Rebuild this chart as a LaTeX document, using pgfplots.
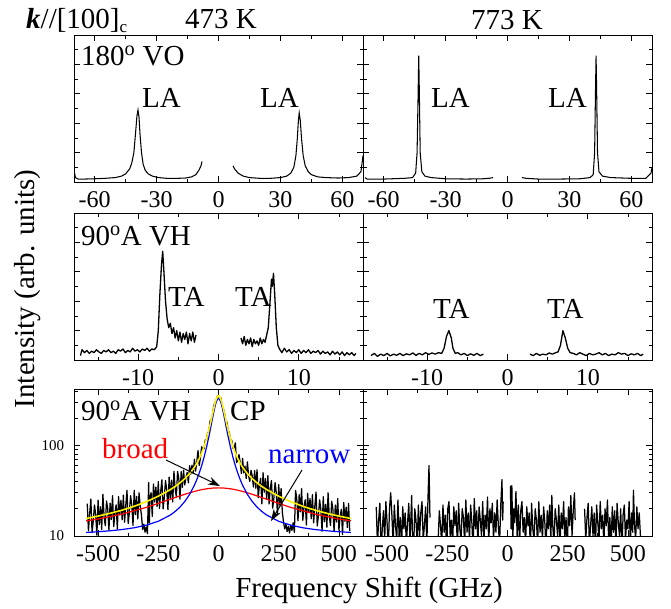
\documentclass[border=0pt]{standalone}
\usepackage{fontspec}
\setmainfont{Liberation Serif}
\usepackage{pgfplots}
\pgfplotsset{compat=1.18}
\usetikzlibrary{arrows.meta}
\pgfplotsset{
  panel/.style={scale only axis, width=289pt, height=147pt, anchor=south west,
    axis line style={line width=0.9pt}, every tick/.style={line width=0.8pt, black},
    major tick length=6pt, minor tick length=3.5pt, tick align=inside,
    xtick pos=both, ytick pos=both, xticklabel pos=lower, yticklabel pos=left,
    tick label style={font=\fontsize{24}{26}\selectfont},
    /pgf/number format/assume math mode=true},
  rowa/.style={panel, xmin=-70, xmax=70, ymin=0, ymax=1,
    xtick={-60,-30,0,30,60}, minor xtick={-45,-15,15,45},
    ytick={0.2,0.4,0.6,0.8}, minor ytick={0.1,0.3,0.5,0.7,0.9}, yticklabels={}},
  rowb/.style={panel, xmin=-18, xmax=18, ymin=0, ymax=1,
    xtick={-10,0,10}, minor xtick={-15,-5,5,15},
    ytick={0.2,0.4,0.6,0.8}, minor ytick={0.1,0.3,0.5,0.7,0.9}, yticklabels={}},
  rowc/.style={panel, xmin=-600, xmax=600,
    xtick={-500,-250,0,250,500}, minor xtick={-375,-125,125,375},
    ytick={10,100}, minor ytick={20,30,40,50,60,70,80,90,200,300,400}},
  dat/.style={black, line width=1.05pt, no marks},
  mid/.style={black, line width=1.3pt, no marks, line join=round},
  noi/.style={black, line width=1.25pt, no marks, line join=round},
}
\begin{document}
\fontsize{29}{33}\selectfont
\begin{tikzpicture}
\useasboundingbox (0pt,0pt) rectangle (671pt,-608pt);
% ---------- row 1 left ----------
\begin{axis}[rowa, at={(74pt,-182pt)}]
\addplot[dat] coordinates {(-70,0.08)(-69.3,0.03)(-68,0.02)(-65,0.02)(-60,0.022)(-55,0.025)(-50,0.03)(-47,0.04)(-45,0.055)(-43,0.09)(-42,0.13)(-41,0.2)(-40.2,0.33)(-39.5,0.45)(-39.0,0.49)(-38.5,0.44)(-38,0.32)(-37.3,0.2)(-36.5,0.12)(-35.5,0.08)(-34,0.055)(-32,0.04)(-29,0.03)(-25,0.025)(-20,0.025)(-16,0.027)(-13,0.035)(-11,0.05)(-9.5,0.08)(-8.5,0.11)(-8,0.14)};
\addplot[dat] coordinates {(7,0.11)(8,0.085)(9.5,0.06)(12,0.04)(15,0.03)(20,0.025)(25,0.025)(30,0.03)(33,0.04)(35,0.06)(36.5,0.1)(37.5,0.18)(38.2,0.3)(38.7,0.42)(39.1,0.47)(39.6,0.42)(40.2,0.3)(41,0.18)(42,0.11)(43.5,0.07)(45,0.05)(48,0.035)(52,0.03)(58,0.027)(63,0.03)(67,0.04)(69,0.07)(70,0.18)};
\end{axis}
% ---------- row 1 right ----------
\begin{axis}[rowa, at={(363pt,-182pt)}]
\addplot[dat] coordinates {(-69,0.03)(-68,0.02)(-60,0.02)(-50,0.025)(-46,0.03)(-44.5,0.06)(-43.8,0.2)(-43.3,0.6)(-43,0.86)(-42.7,0.6)(-42.3,0.2)(-41.5,0.07)(-40,0.04)(-37,0.03)(-30,0.022)(-20,0.02)(-12,0.022)(-9,0.025)(-7,0.03)};
\addplot[dat] coordinates {(7,0.03)(9,0.025)(15,0.02)(25,0.02)(35,0.022)(40,0.03)(41.5,0.05)(42.2,0.2)(42.6,0.6)(42.9,0.86)(43.2,0.6)(43.6,0.2)(44.3,0.07)(46,0.04)(50,0.03)(60,0.025)(67,0.025)(69.5,0.06)(70,0.1)};
\end{axis}
% ---------- row 2 left ----------
\begin{axis}[rowb, at={(74pt,-360pt)}]
\addplot[mid] coordinates {(-17.2,0.03)(-17.0,0.07)(-16.7,0.05)(-16.4,0.065)(-16.1,0.045)(-15.8,0.06)(-15.5,0.05)(-15.2,0.07)(-14.9,0.055)(-14.6,0.045)(-14.3,0.065)(-14.0,0.055)(-13.7,0.07)(-13.4,0.05)(-13.1,0.06)(-12.8,0.045)(-12.5,0.07)(-12.2,0.06)(-11.9,0.075)(-11.6,0.05)(-11.3,0.065)(-11.0,0.055)(-10.7,0.08)(-10.4,0.06)(-10.1,0.07)(-9.8,0.055)(-9.5,0.075)(-9.2,0.065)(-8.9,0.08)(-8.6,0.06)(-8.3,0.075)(-8.0,0.07)(-7.7,0.09)(-7.5,0.2)(-7.3,0.45)(-7.1,0.65)(-6.95,0.74)(-6.8,0.6)(-6.6,0.4)(-6.4,0.28)(-6.2,0.22)(-6.0,0.25)(-5.8,0.18)(-5.6,0.22)(-5.4,0.15)(-5.2,0.2)(-5.0,0.13)(-4.8,0.19)(-4.6,0.12)(-4.4,0.18)(-4.2,0.14)(-4.0,0.19)(-3.8,0.11)(-3.6,0.18)(-3.4,0.13)(-3.2,0.19)(-3.0,0.12)(-2.8,0.17)};
\addplot[mid] coordinates {(2.8,0.15)(3.0,0.11)(3.2,0.16)(3.4,0.1)(3.6,0.14)(3.8,0.11)(4.0,0.15)(4.2,0.09)(4.4,0.14)(4.6,0.11)(4.8,0.13)(5.0,0.1)(5.2,0.15)(5.4,0.11)(5.6,0.14)(5.8,0.12)(6.0,0.17)(6.2,0.22)(6.4,0.38)(6.6,0.55)(6.7,0.5)(6.85,0.59)(7.0,0.45)(7.2,0.22)(7.4,0.1)(7.6,0.075)(7.9,0.05)(8.2,0.08)(8.5,0.055)(8.8,0.07)(9.1,0.045)(9.4,0.065)(9.7,0.05)(10.0,0.07)(10.3,0.045)(10.6,0.065)(10.9,0.05)(11.2,0.07)(11.5,0.045)(11.8,0.06)(12.1,0.05)(12.4,0.065)(12.7,0.04)(13.0,0.06)(13.3,0.045)(13.6,0.055)(13.9,0.035)(14.2,0.06)(14.5,0.04)(14.8,0.055)(15.1,0.035)(15.4,0.055)(15.7,0.03)(16.0,0.05)(16.3,0.035)(16.6,0.05)(16.9,0.03)(17.1,0.045)};
\end{axis}
% ---------- row 2 right ----------
\begin{axis}[rowb, at={(363pt,-360pt)}]
\addplot[mid] coordinates {(-17.0,0.03)(-16.6,0.045)(-16.2,0.025)(-15.8,0.04)(-15.4,0.03)(-15.0,0.045)(-14.6,0.028)(-14.2,0.04)(-13.8,0.032)(-13.4,0.045)(-13.0,0.03)(-12.6,0.042)(-12.2,0.035)(-11.8,0.048)(-11.4,0.032)(-11.0,0.045)(-10.6,0.035)(-10.2,0.05)(-9.8,0.038)(-9.4,0.048)(-9.0,0.04)(-8.6,0.05)(-8.2,0.045)(-7.9,0.08)(-7.6,0.16)(-7.3,0.2)(-7.0,0.15)(-6.8,0.08)(-6.5,0.045)(-6.2,0.05)(-5.8,0.035)(-5.4,0.045)(-5.0,0.03)(-4.6,0.042)(-4.2,0.032)(-3.8,0.045)(-3.4,0.03)(-3.0,0.04)};
\addplot[mid] coordinates {(2.8,0.04)(3.2,0.03)(3.6,0.045)(4.0,0.032)(4.4,0.04)(4.8,0.035)(5.2,0.048)(5.6,0.04)(6.0,0.05)(6.3,0.055)(6.6,0.1)(6.9,0.2)(7.2,0.15)(7.5,0.08)(7.8,0.05)(8.2,0.045)(8.6,0.035)(9.0,0.05)(9.4,0.04)(9.8,0.03)(10.2,0.045)(10.6,0.035)(11.0,0.04)(11.4,0.05)(11.8,0.035)(12.2,0.045)(12.6,0.03)(13.0,0.04)(13.4,0.035)(13.8,0.05)(14.2,0.04)(14.6,0.045)(15.0,0.03)(15.4,0.042)(15.8,0.035)(16.2,0.045)(16.6,0.03)(16.9,0.04)};
\end{axis}
% ---------- row 3 left ----------
\begin{axis}[rowc, ymode=log, ymin=10, ymax=420, at={(74pt,-536pt)}, yticklabels={10,100},
  yticklabel style={font=\fontsize{15}{16}\selectfont}]
\addplot[noi] coordinates {(-545,22.8)(-540,11.4)(-535,17.5)(-530,25.6)(-525,10.9)(-520,14.6)(-515,22.0)(-510,17.2)(-505,10.2)(-500,24.9)(-495,13.4)(-490,21.0)(-485,11.8)(-480,28.9)(-475,16.3)(-470,13.0)(-465,24.4)(-460,20.1)(-455,11.6)(-450,23.1)(-445,15.2)(-440,27.9)(-435,12.7)(-430,18.3)(-425,22.1)(-420,11.9)(-415,27.3)(-410,17.1)(-405,24.9)(-400,15.1)(-395,28.3)(-390,14.2)(-385,21.8)(-380,32.0)(-375,13.7)(-370,18.4)(-365,27.9)(-360,21.9)(-355,13.1)(-350,32.0)(-345,17.2)(-340,27.3)(-335,15.4)(-330,30.0)(-325,21.4)(-320,17.1)(-315,11.8)(-310,13.5)(-305,11.0)(-300,12.6)(-295,10.6)(-290,39.0)(-287,14.0)(-285,24.9)(-280,30.2)(-275,16.4)(-270,37.6)(-265,23.7)(-260,34.7)(-255,21.1)(-250,39.9)(-245,20.1)(-240,31.1)(-235,41.8)(-230,19.9)(-225,26.8)(-220,40.9)(-215,32.4)(-210,19.5)(-205,44.7)(-200,26.0)(-195,41.4)(-190,23.7)(-185,51.8)(-180,33.5)(-175,27.1)(-170,51.7)(-165,43.4)(-160,25.5)(-155,51.5)(-150,34.5)(-145,53.3)(-140,36.6)(-135,44.4)(-130,50.3)(-125,38.7)(-120,59.8)(-115,48.2)(-110,60.6)(-105,49.0)(-100,70.4)(-95,52.0)(-90,66.8)(-85,87.9)(-80,60.1)(-75,73.1)(-70,96.6)(-65,91.7)(-60,91.4)(-55,115)(-50,114.4)(-45,138.3)(-40,142)(-35,186.9)(-30,191.8)(-25,213.8)(-20,270.7)(-15,295.7)(-10,305.9)(-5,350)(0,352)(5,338.5)(10,335)(15,276.9)(20,255.4)(25,229.4)(30,183.2)(35,180.9)(40,146.5)(45,139)(50,114)(55,114.5)(60,93)(65,94)(70,106.9)(75,64.6)(80,68.0)(85,79.4)(90,65.2)(95,49.0)(100,71.9)(105,49.6)(110,59.3)(115,43.1)(120,65.9)(125,46.1)(130,40.0)(135,53.2)(140,46.2)(145,34.7)(150,52.8)(155,33.7)(160,54.0)(165,26.4)(170,36.9)(175,43.3)(180,22.6)(185,50.1)(190,30.4)(195,43.1)(200,25.4)(205,46.3)(210,22.6)(215,33.9)(220,40.9)(225,20.3)(230,26.4)(235,38.9)(240,29.7)(245,17.3)(250,37.1)(255,21.7)(260,33.4)(265,18.4)(270,14.2)(275,12.0)(280,13.5)(285,11.2)(290,12.8)(295,10.8)(300,13.2)(305,11.5)(310,14.0)(315,11.0)(320,31.9)(325,25.9)(330,14.7)(335,28.6)(340,18.5)(345,33.4)(350,14.9)(355,21.1)(360,25.1)(365,13.2)(370,29.6)(375,18.2)(380,26.0)(385,15.5)(390,28.6)(395,14.0)(400,21.2)(405,30.6)(410,12.9)(415,16.9)(420,25.1)(425,19.4)(430,11.3)(435,27.2)(440,14.4)(445,22.4)(450,12.5)(455,30.0)(460,16.6)(465,13.1)(470,24.2)(475,19.7)(480,11.2)(485,22.0)(490,14.3)(495,25.9)(500,11.6)(505,16.5)(510,19.7)(515,10.4)(520,23.5)(525,14.5)(530,20.8)(535,12.4)(540,22.9)(545,11.3)};
\addplot[red, line width=1.2pt, no marks] coordinates {(-550,14.7)(-500,15.4)(-450,16.4)(-400,17.5)(-350,19.0)(-300,20.7)(-250,22.9)(-200,25.5)(-180,26.6)(-140,28.9)(-100,31.1)(-70,32.5)(-50,33.2)(-20,33.9)(0,34)(20,33.9)(50,33.2)(70,32.5)(100,31.1)(140,28.9)(180,26.6)(200,25.5)(250,22.9)(300,20.7)(350,19.0)(400,17.5)(450,16.4)(500,15.4)(550,14.7)};
\addplot[blue, line width=1.2pt, no marks] coordinates {(-550,10.95)(-500,11.15)(-450,11.42)(-400,11.79)(-350,12.33)(-300,13.17)(-250,14.54)(-200,17.04)(-180,18.65)(-160,20.87)(-140,24.05)(-120,28.8)(-100,36.4)(-90,42)(-80,49.5)(-70,59.7)(-60,74)(-50,94.7)(-40,125.2)(-35,145.5)(-30,170)(-25,198.9)(-20,231.5)(-15,266)(-10,298)(-5,321.4)(0,330)(5,321.4)(10,298)(15,266)(20,231.5)(25,198.9)(30,170)(35,145.5)(40,125.2)(50,94.7)(60,74)(70,59.7)(80,49.5)(90,42)(100,36.4)(120,28.8)(140,24.05)(160,20.87)(180,18.65)(200,17.04)(250,14.54)(300,13.17)(350,12.33)(400,11.79)(450,11.42)(500,11.15)(550,10.95)};
\addplot[yellow, line width=1.6pt, no marks] coordinates {(-550,15.6)(-500,16.6)(-450,17.8)(-400,19.3)(-350,21.3)(-300,23.9)(-250,27.5)(-200,32.5)(-180,35.3)(-160,38.6)(-140,43.0)(-120,48.8)(-100,57.5)(-90,63.6)(-80,71.6)(-70,82.2)(-60,96.9)(-50,117.9)(-40,148.7)(-35,169.1)(-30,193.7)(-25,222.7)(-20,255.4)(-15,289.9)(-10,322)(-5,345.4)(0,354)(5,345.4)(10,322)(15,289.9)(20,255.4)(25,222.7)(30,193.7)(35,169.1)(40,148.7)(50,117.9)(60,96.9)(70,82.2)(80,71.6)(90,63.6)(100,57.5)(120,48.8)(140,43.0)(160,38.6)(180,35.3)(200,32.5)(250,27.5)(300,23.9)(350,21.3)(400,19.3)(450,17.8)(500,16.6)(550,15.6)};
\end{axis}
% ---------- row 3 right ----------
\begin{axis}[rowc, ymode=log, ymin=10, ymax=420, at={(363pt,-536pt)}, yticklabels={}]
\addplot[noi] coordinates {(-545,21)(-540,8)(-535,15)(-530,23)(-525,7)(-520,12)(-515,19)(-510,9)(-505,24)(-500,14)(-495,7)(-490,20)(-485,30)(-480,17)(-475,8)(-470,22)(-465,13)(-460,9)(-455,25)(-450,10)(-445,16)(-440,7)(-435,21)(-430,12)(-425,18)(-420,8)(-415,14)(-410,23)(-405,9)(-400,19)(-398,28)(-395,11)(-390,7)(-385,20)(-380,15)(-375,8)(-370,22)(-365,10)(-360,18)(-355,24)(-350,9)(-345,13)(-340,21)(-335,8)(-330,27)(-326,60)(-322,16)};
\addplot[noi] coordinates {(-288,9)(-283,19)(-278,13)(-273,8)(-268,22)(-263,11)(-258,17)(-253,7)(-248,20)(-243,24)(-238,10)(-233,15)(-228,8)(-223,21)(-218,13)(-213,19)(-208,7)(-203,23)(-198,12)(-193,9)(-188,20)(-183,16)(-178,8)(-173,25)(-168,11)(-163,18)(-158,9)(-153,22)(-148,14)(-143,7)(-138,26)(-133,12)(-128,19)(-123,8)(-118,21)(-113,15)(-108,10)(-103,24)(-98,9)(-93,17)(-88,12)(-83,27)(-78,8)(-73,20)(-68,14)(-63,23)(-58,9)(-53,18)(-48,11)(-43,25)(-38,13)(-33,8)(-28,22)(-23,42)(-20,15)(-18,24)};
\addplot[noi] coordinates {(12,36)(15,12)(18,36)(22,9)(26,20)(30,14)(35,31)(40,10)(45,22)(50,8)(55,19)(60,24)(65,11)(70,16)(75,8)(80,21)(85,13)(90,18)(95,7)(100,23)(105,12)(110,9)(115,20)(120,15)(125,8)(130,24)(135,11)(140,17)(145,9)(150,21)(155,14)(160,7)(165,19)(170,12)(175,22)(180,9)(184,28)(188,13)(193,8)(198,20)(203,15)(208,10)(213,22)(218,8)(223,18)(228,12)(233,24)(238,9)(243,16)(248,7)(253,21)(258,13)(263,28)(268,10)(273,19)(278,30)(281,15)};
\addplot[noi] coordinates {(320,20)(325,9)(330,16)(335,23)(340,8)(345,13)(350,21)(355,10)(360,18)(365,7)(370,22)(375,14)(380,9)(385,24)(390,12)(395,17)(400,8)(405,20)(410,13)(415,25)(420,9)(425,16)(430,7)(435,21)(440,11)(445,19)(450,8)(455,23)(460,14)(465,10)(470,20)(475,7)(480,17)(485,22)(490,9)(495,15)(500,12)(505,24)(510,8)(515,18)(520,11)(523,32)(527,14)(532,9)(537,21)(542,12)(547,18)(552,10)};
\end{axis}
% ---------- annotations ----------
\begin{scope}[every node/.style={inner sep=0pt}]
\node[anchor=base west] at (26pt,-28pt) {\textbf{\textit{k}}//[100]\raisebox{-0.15em}{\fontsize{17}{18}\selectfont c}};
\node[anchor=base] at (221pt,-28pt) {473 K};
\node[anchor=base] at (507pt,-29pt) {773 K};
\node[anchor=base west] at (81pt,-65pt) {180\textsuperscript{o} VO};
\node[anchor=base west] at (142pt,-107pt) {LA};
\node[anchor=base west] at (260pt,-107pt) {LA};
\node[anchor=base west] at (431pt,-107pt) {LA};
\node[anchor=base west] at (548pt,-107pt) {LA};
\node[anchor=base west] at (81pt,-245pt) {90\textsuperscript{o}A VH};
\node[anchor=base west] at (168pt,-306pt) {TA};
\node[anchor=base west] at (235pt,-306pt) {TA};
\node[anchor=base west] at (433pt,-318pt) {TA};
\node[anchor=base west] at (547pt,-318pt) {TA};
\node[anchor=base west] at (81pt,-420pt) {90\textsuperscript{o}A VH};
\node[anchor=base west] at (230pt,-420pt) {CP};
\node[anchor=base west, text=red] at (102pt,-458pt) {broad};
\node[anchor=base west, text=blue] at (268pt,-463pt) {narrow};
\node[rotate=90] at (28pt,-289pt) {Intensity (arb. units)};
\node[anchor=base] at (369pt,-597pt) {Frequency Shift (GHz)};
\end{scope}
\draw[-{Stealth[length=12pt,width=8pt]}, line width=1pt] (166pt,-460pt) -- (220pt,-486pt);
\draw[-{Stealth[length=12pt,width=8pt]}, line width=1pt] (302pt,-470pt) -- (271pt,-521pt);
\end{tikzpicture}
\end{document}
